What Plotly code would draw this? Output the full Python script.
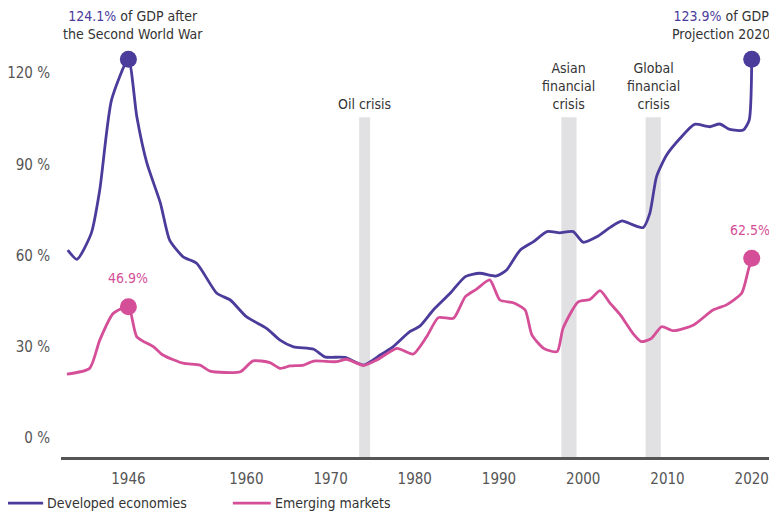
import plotly.graph_objects as go

# Government debt, % of GDP
dev_years = [1938.8, 1939.9, 1941.6, 1942.6, 1944.0, 1946.0, 1947.0, 1948.2, 1949.8, 1950.9,
             1952.5, 1954.1, 1956.5, 1958.1, 1960.0, 1962.4, 1964.0, 1965.6, 1968.0, 1969.3,
             1971.7, 1973.9, 1975.9, 1977.4, 1979.4, 1980.6, 1982.2, 1984.2, 1986.0, 1987.7,
             1989.7, 1990.9, 1992.5, 1994.1, 1995.7, 1997.2, 1998.8, 2000.0, 2001.6, 2003.2,
             2004.6, 2005.9, 2007.1, 2007.9, 2008.7, 2009.9, 2011.5, 2013.2, 2015.0, 2016.2,
             2017.4, 2019.0, 2019.7, 2020.0]
dev_values = [61.8, 58.8, 67.4, 81.6, 111.2, 124.6, 105.7, 90.4, 77.3, 65.1,
              59.6, 57.5, 47.6, 45.4, 39.9, 36.1, 32.2, 30.0, 29.2, 26.7,
              26.5, 24.0, 27.3, 30.0, 35.0, 36.8, 42.1, 47.6, 53.1, 54.2,
              53.3, 55.3, 61.8, 64.6, 67.9, 67.5, 67.9, 64.4, 66.2, 69.3,
              71.4, 70.1, 69.2, 73.9, 86.0, 93.1, 98.6, 103.2, 102.4, 103.3,
              101.5, 101.3, 104.6, 124.6]

emg_years = [1938.7, 1941.4, 1942.6, 1944.2, 1946.0, 1947.0, 1949.0, 1950.1, 1952.5, 1954.5,
             1955.7, 1959.3, 1960.8, 1962.8, 1964.0, 1965.2, 1966.8, 1968.0, 1970.7, 1971.9,
             1973.9, 1975.5, 1977.9, 1979.8, 1981.4, 1982.8, 1984.6, 1986.0, 1987.3, 1988.9,
             1990.1, 1991.7, 1993.1, 1993.9, 1995.3, 1996.9, 1997.6, 1999.4, 2000.8, 2002.0,
             2003.2, 2004.4, 2005.9, 2006.9, 2008.1, 2009.3, 2010.7, 2013.1, 2015.4, 2017.0,
             2018.8, 2019.6, 2020.0]
emg_values = [21.0, 22.9, 32.2, 41.0, 43.2, 33.3, 30.0, 27.3, 24.6, 24.0,
              22.0, 21.8, 25.4, 24.8, 22.9, 23.7, 24.0, 25.3, 25.1, 25.9,
              23.9, 25.7, 29.5, 27.6, 33.3, 39.6, 39.4, 46.5, 48.9, 52.0,
              45.4, 44.5, 42.1, 33.9, 29.5, 28.4, 36.1, 44.8, 45.6, 48.5,
              44.3, 40.5, 34.4, 31.7, 32.8, 36.6, 35.3, 37.2, 42.1, 43.8,
              47.6, 55.3, 59.1]

crisis_labels = ["Oil crisis", "Asian<br>financial<br>crisis", "Global<br>financial<br>crisis"]
crisis_start = [1973.4, 1997.4, 2007.4]
crisis_end = [1974.7, 1999.2, 2009.2]

x_ticks = [1946, 1960, 1970, 1980, 1990, 2000, 2010, 2020]
y_ticks = [0, 30, 60, 90, 120]
y_ticktext = ["0 %", "30 %", "60 %", "90 %", "120 %"]

PURPLE = "#4b3b9b"
PINK = "#d44e98"
FONT = "DejaVu Sans Condensed, DejaVu Sans, sans-serif"

fig = go.Figure()

fig.add_trace(go.Scatter(x=dev_years, y=dev_values, mode="lines", name="Developed economies",
                         line=dict(color=PURPLE, width=2.8, shape="spline", smoothing=0.6)))
fig.add_trace(go.Scatter(x=emg_years, y=emg_values, mode="lines", name="Emerging markets",
                         line=dict(color=PINK, width=2.8, shape="spline", smoothing=0.6)))

# highlighted points: 1946 peak and 2020 projection
i_dev = dev_years.index(1946.0)
i_emg = emg_years.index(1946.0)
fig.add_trace(go.Scatter(x=[dev_years[i_dev], dev_years[-1]], y=[dev_values[i_dev], dev_values[-1]],
                         mode="markers", marker=dict(color=PURPLE, size=17), showlegend=False,
                         cliponaxis=False))
fig.add_trace(go.Scatter(x=[emg_years[i_emg], emg_years[-1]], y=[emg_values[i_emg], emg_values[-1]],
                         mode="markers", marker=dict(color=PINK, size=17), showlegend=False,
                         cliponaxis=False))

# crisis bands
for label, x0, x1 in zip(crisis_labels, crisis_start, crisis_end):
    fig.add_shape(type="rect", xref="x", yref="y", x0=x0, x1=x1, y0=-6.25, y1=105.5,
                  fillcolor="#e1e1e3", line_width=0, layer="below")
    fig.add_annotation(x=(x0 + x1) / 2, y=106.5, text=label, showarrow=False,
                       yanchor="bottom", font=dict(size=14, color="#333333"))

fig.add_annotation(x=1946.5, y=136, showarrow=False,
                   text=f"<span style='color:{PURPLE}'>124.1%</span> of GDP after<br>the Second World War",
                   font=dict(size=14, color="#333333"))
fig.add_annotation(x=2016.3, y=136, showarrow=False,
                   text=f"<span style='color:{PURPLE}'>123.9%</span> of GDP<br>Projection 2020",
                   font=dict(size=14, color="#333333"))
fig.add_annotation(x=1946, y=52.6, text="46.9%", showarrow=False, font=dict(size=14, color=PINK))
fig.add_annotation(x=2019.8, y=68.4, text="62.5%", showarrow=False, font=dict(size=14, color=PINK))

# legend drawn in the bottom margin (paper coordinates)
legend_names = ["Developed economies", "Emerging markets"]
legend_colors = [PURPLE, PINK]
legend_x = [-0.078, 0.24]
for name, color, lx in zip(legend_names, legend_colors, legend_x):
    fig.add_shape(type="line", xref="paper", yref="paper", x0=lx, x1=lx + 0.053,
                  y0=-0.103, y1=-0.103, line=dict(color=color, width=2.8))
    fig.add_annotation(xref="paper", yref="paper", x=lx + 0.056, y=-0.103, text=name,
                       showarrow=False, xanchor="left", yanchor="middle",
                       font=dict(size=14, color="#333333"))

# the page body adds an 8px margin, so the plot area is shifted up/left by 8px
fig.update_layout(
    template="none",
    width=777, height=516,
    margin=dict(l=53, r=8, t=2, b=67),
    paper_bgcolor="white", plot_bgcolor="white",
    font=dict(family=FONT, size=14, color="#555555"),
    showlegend=False,
    xaxis=dict(range=[1938.0, 2023.0], tickvals=x_ticks, showgrid=False, zeroline=False,
               showline=True, linecolor="#555555", linewidth=2.5, ticks="",
               ticklabelstandoff=6, automargin=False, tickfont=dict(size=15)),
    yaxis=dict(range=[-6.25, 140.8], tickvals=y_ticks, ticktext=y_ticktext, showgrid=False,
               zeroline=False, showline=False, ticks="", ticklabelstandoff=10,
               automargin=False, tickfont=dict(size=15)),
)

fig.write_html("out.html")
